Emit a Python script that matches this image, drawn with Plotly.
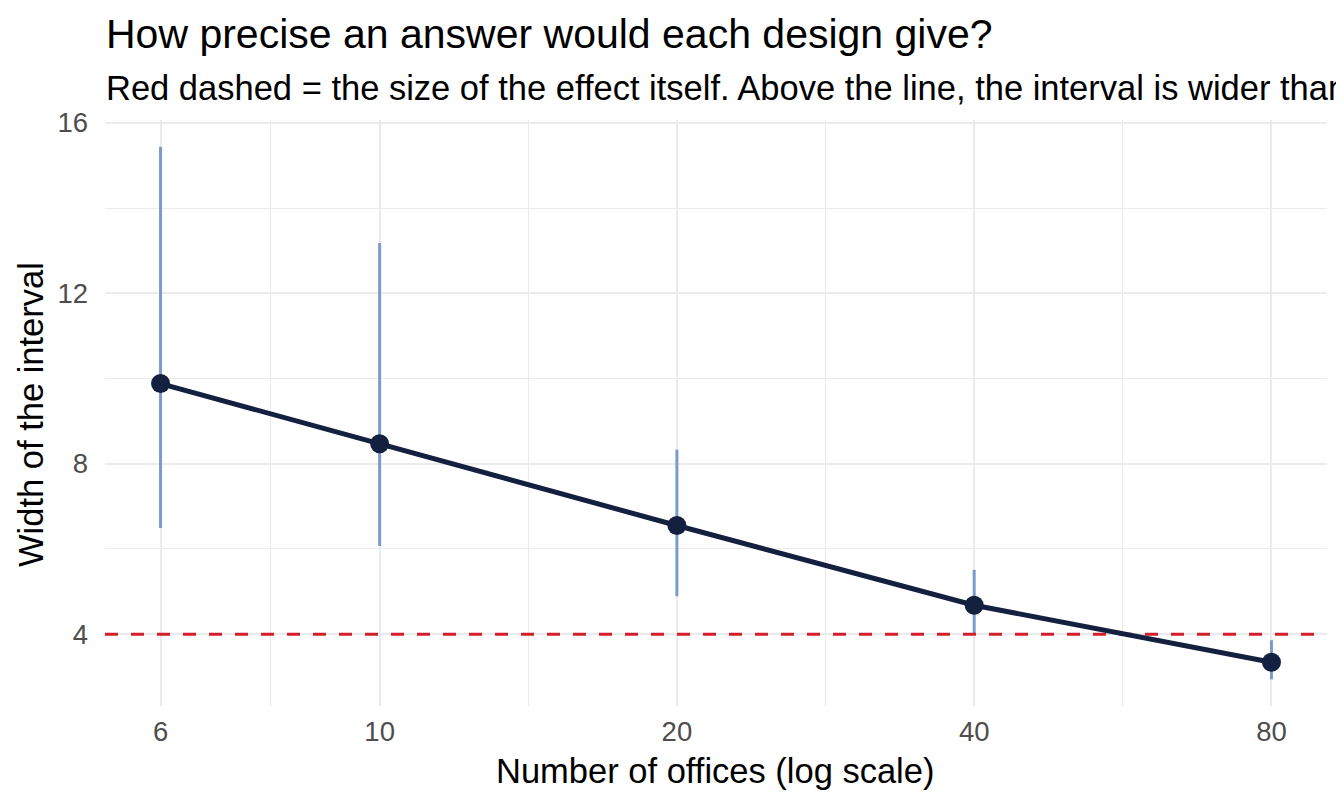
import numpy as np
import plotly.graph_objects as go

# ---- data ----
offices = [6, 10, 20, 40, 80]
width = [9.88, 8.47, 6.55, 4.68, 3.34]
lower = [6.49, 6.07, 4.89, 3.98, 2.94]
upper = [15.44, 13.18, 8.33, 5.51, 3.86]
effect_size = 4
x_ticks = [6, 10, 20, 40, 80]
y_ticks = [4, 8, 12, 16]
y_minor = [6, 10, 14]

title = "How precise an answer would each design give?"
subtitle = "Red dashed = the size of the effect itself. Above the line, the interval is wider than the effect."
x_title = "Number of offices (log scale)"
y_title = "Width of the interval"

FONT = "Liberation Sans"
NAVY = "#14203F"
BLUE = "#7B9BCB"
RED = "#D21F2D"
GRID = "#EBEBEB"

# ggplot-like 5% expansion
lx = np.log10(offices)
span = lx.max() - lx.min()
x_range = [lx.min() - 0.05 * span, lx.max() + 0.05 * span]
ylo, yhi = min(lower), max(upper)
ys = yhi - ylo
y_range = [ylo - 0.05 * ys, yhi + 0.05 * ys]
x_minor = list(np.sqrt(np.array(x_ticks[:-1]) * np.array(x_ticks[1:])))

# page body has an 8px margin; lay out in window pixels
OFF = 8
FIG_W, FIG_H = 1344 - OFF, 806 - OFF
P_LEFT, P_RIGHT, P_TOP, P_BOTTOM = 105, 1327, 120, 706   # panel in window px
ML = P_LEFT - OFF
MR = (FIG_W + OFF) - P_RIGHT
MT = P_TOP - OFF
MB = (FIG_H + OFF) - P_BOTTOM
H = P_BOTTOM - P_TOP
W = P_RIGHT - P_LEFT

def py(px):
    return (P_BOTTOM - px) / H

def pxx(px):
    return (px - P_LEFT) / W

fig = go.Figure()

fig.add_trace(go.Scatter(
    x=offices, y=width, mode="markers",
    marker=dict(color="rgba(0,0,0,0)", size=1),
    error_y=dict(type="data", symmetric=False,
                 array=[u - w for u, w in zip(upper, width)],
                 arrayminus=[w - l for w, l in zip(width, lower)],
                 width=0, thickness=3, color=BLUE),
    hoverinfo="skip", showlegend=False))

fig.add_trace(go.Scatter(
    x=[10 ** x_range[0], 10 ** x_range[1]], y=[effect_size, effect_size],
    mode="lines", line=dict(color=RED, width=3, dash="13px,13px"),
    hoverinfo="skip", showlegend=False))

fig.add_trace(go.Scatter(
    x=offices, y=width, mode="lines+markers",
    line=dict(color=NAVY, width=5),
    marker=dict(color=NAVY, size=19),
    showlegend=False))

fig.update_layout(
    width=FIG_W, height=FIG_H,
    margin=dict(l=ML, r=MR, t=MT, b=MB),
    paper_bgcolor="white", plot_bgcolor="white",
    font=dict(family=FONT, color="black"),
    showlegend=False,
    xaxis=dict(type="log", range=x_range, tickvals=x_ticks,
               ticktext=[str(v) for v in x_ticks],
               showgrid=True, gridcolor=GRID, gridwidth=2,
               zeroline=False, showline=False, ticks="",
               ticklabelstandoff=6,
               tickfont=dict(size=27.5, color="#4D4D4D", family=FONT),
               minor=dict(tickmode="array", tickvals=x_minor, showgrid=True,
                          gridcolor=GRID, gridwidth=1.2)),
    yaxis=dict(range=y_range, tickvals=y_ticks,
               showgrid=True, gridcolor=GRID, gridwidth=2,
               zeroline=False, showline=False, ticks="",
               ticklabelstandoff=16,
               tickfont=dict(size=27.5, color="#4D4D4D", family=FONT),
               minor=dict(tickmode="array", tickvals=y_minor, showgrid=True,
                          gridcolor=GRID, gridwidth=1.2)),
)

fig.add_annotation(text=title, xref="paper", yref="paper", x=0, y=py(34),
                   xanchor="left", yanchor="middle", showarrow=False, borderpad=0,
                   font=dict(size=41, family=FONT, color="black"))
fig.add_annotation(text=subtitle, xref="paper", yref="paper", x=0, y=py(88),
                   xanchor="left", yanchor="middle", showarrow=False, borderpad=0,
                   font=dict(size=34.5, family=FONT, color="black"))
fig.add_annotation(text=x_title, xref="paper", yref="paper", x=pxx(715), y=py(771),
                   xanchor="center", yanchor="middle", showarrow=False,
                   font=dict(size=34.5, family=FONT, color="black"))
fig.add_annotation(text=y_title, xref="paper", yref="paper", x=pxx(31), y=py(415),
                   xanchor="center", yanchor="middle", showarrow=False, textangle=-90,
                   font=dict(size=34.5, family=FONT, color="black"))

fig.write_html("out.html")
